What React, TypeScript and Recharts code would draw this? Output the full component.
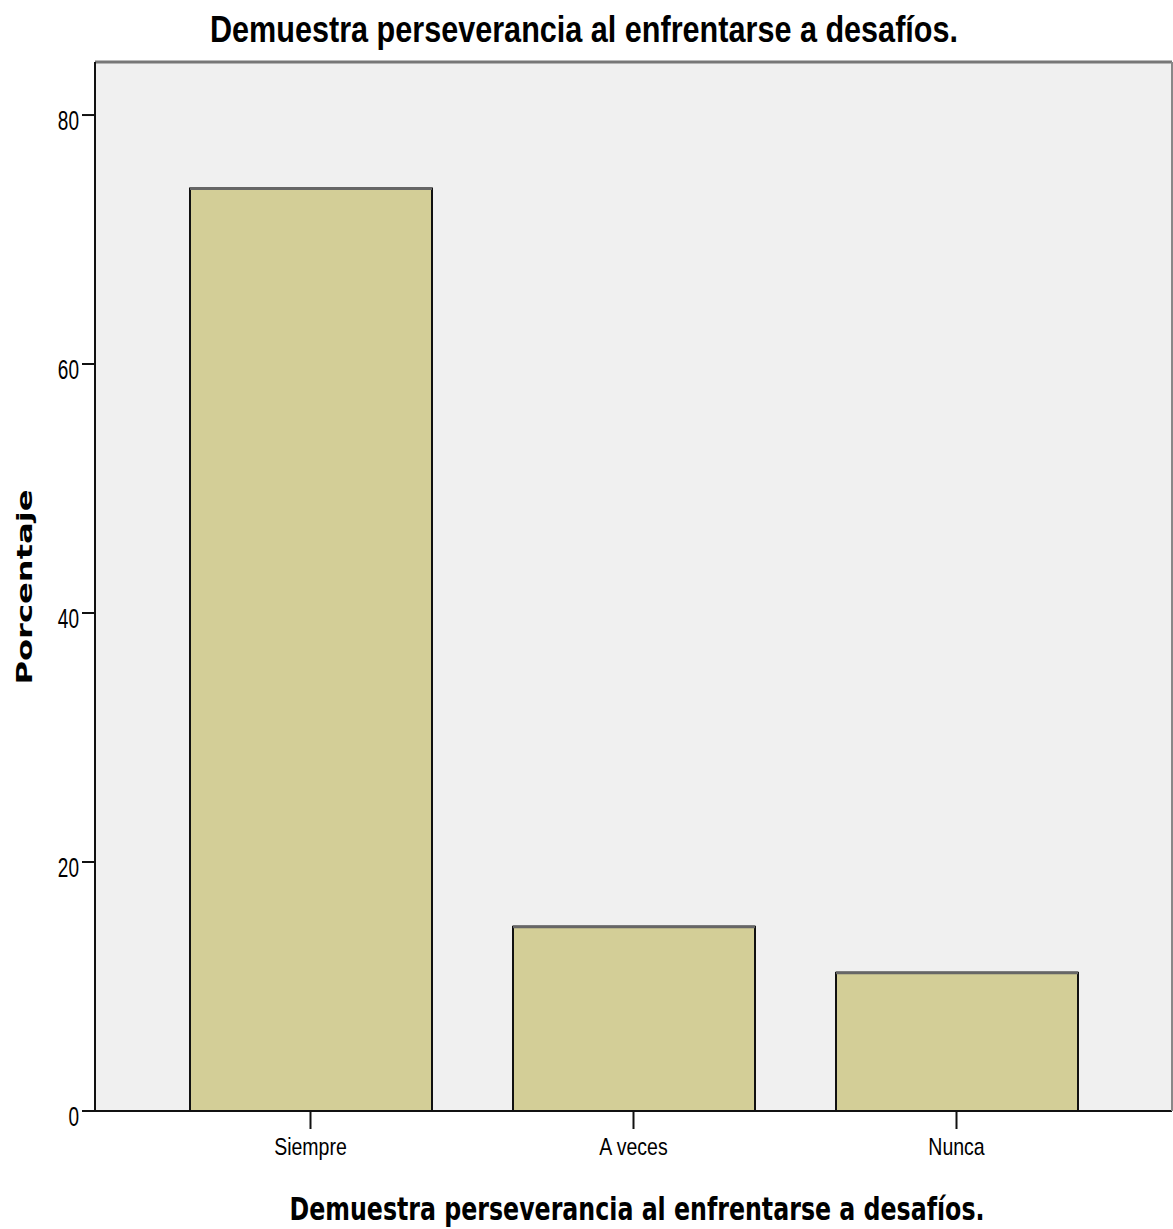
import React from "react";
import { BarChart, Bar, XAxis, YAxis, CartesianGrid, ReferenceLine } from "recharts";

const categories = ["Siempre", "A veces", "Nunca"];
const percentages = [74.1, 14.8, 11.1];
const yTicks = [0, 20, 40, 60, 80];
const yMax = 84.26;

const title = "Demuestra perseverancia al enfrentarse a desafíos.";
const yTitle = "Porcentaje";

const data = categories.map((cat, i) => ({ cat, pct: percentages[i] }));

const W = 1173;
const H = 1229;

// SPSS output is stretched vertically, so text gets a scaleY on top of the font size
function StretchText({ x, y, text, size, sy, len, weight = "normal", family = "Liberation Sans, Arial, sans-serif", anchor = "middle", rotate = 0 }: any) {
  const tf = rotate ? `translate(${x},${y}) rotate(${rotate}) scale(1,${sy})` : `translate(${x},${y}) scale(1,${sy})`;
  return (
    <text
      transform={tf}
      textAnchor={anchor}
      fontSize={size}
      fontWeight={weight}
      fontFamily={family}
      fill="#000"
      textLength={len}
      lengthAdjust={len ? "spacingAndGlyphs" : undefined}
    >
      {text}
    </text>
  );
}

function XTick(props: any) {
  const { x, y, payload } = props;
  return <StretchText x={x} y={y + 26} text={payload.value} size={19.5} sy={1.22} anchor="middle" fill="#222" />;
}

function YTick(props: any) {
  const { x, y, payload } = props;
  return <StretchText x={x} y={y + 14.5} text={payload.value} size={19} sy={1.5} anchor="end" />;
}

function SpssBar(props: any) {
  const { x, y, width, height } = props;
  if (!height || height <= 0) return null;
  return (
    <g>
      <rect x={x} y={y} width={width} height={height} fill="#D3CE97" stroke="#111" strokeWidth={2} />
      <line x1={x} x2={x + width} y1={y} y2={y} stroke="#666" strokeWidth={3} />
    </g>
  );
}

export default function App() {
  return (
    <div style={{ position: "absolute", left: 0, top: 0, width: W, height: H, background: "#fff" }}>
      <BarChart width={W} height={H} data={data} margin={{ top: 62, right: 0, left: 0, bottom: 0 }}>
        <CartesianGrid fill="#F0F0F0" horizontal={false} vertical={false} stroke="none" />
        <XAxis
          dataKey="cat"
          height={118}
          padding={{ left: 54, right: 54 }}
          axisLine={{ stroke: "#111", strokeWidth: 2 }}
          tickLine={{ stroke: "#111", strokeWidth: 2 }}
          tickSize={18}
          tickMargin={0}
          tick={<XTick />}
          interval={0}
        />
        <YAxis
          width={95}
          domain={[0, yMax]}
          ticks={yTicks}
          allowDataOverflow
          axisLine={{ stroke: "#111", strokeWidth: 2 }}
          tickLine={{ stroke: "#111", strokeWidth: 2 }}
          tickSize={13}
          tickMargin={3}
          tick={<YTick />}
        />
        <YAxis
          yAxisId="right"
          orientation="right"
          width={1}
          domain={[0, yMax]}
          tick={false}
          tickLine={false}
          axisLine={{ stroke: "#888", strokeWidth: 2 }}
        />
        <ReferenceLine y={yMax} stroke="#777" strokeWidth={3} />
        <Bar dataKey="pct" barSize={242} shape={<SpssBar />} isAnimationActive={false} />
        <StretchText x={584} y={42} text={title} size={24} sy={1.57} len={748} weight="bold" />
        <StretchText x={637} y={1220} text={title} size={22} sy={1.45} len={695} weight="bold" family="DejaVu Sans, Verdana, sans-serif" />
        <StretchText x={32} y={587} text={yTitle} size={22} sy={1} len={195} weight="bold" family="DejaVu Sans, Verdana, sans-serif" rotate={-90} />
      </BarChart>
    </div>
  );
}
